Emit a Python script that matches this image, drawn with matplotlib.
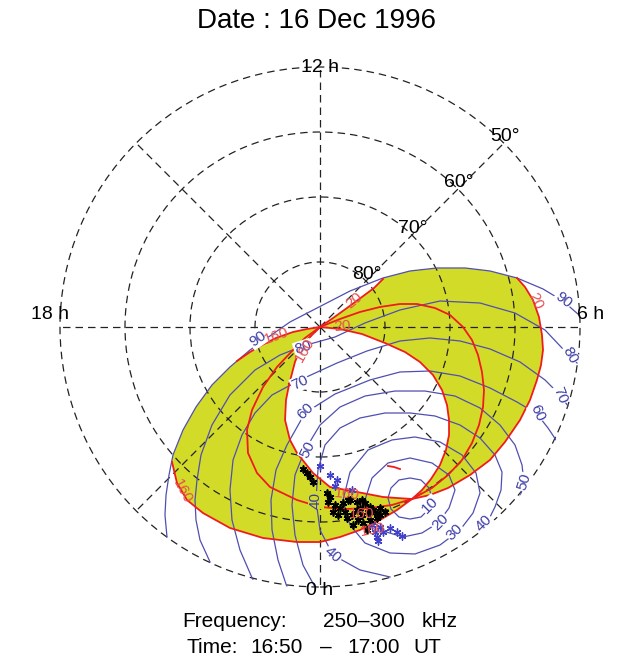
import numpy as np
import matplotlib
matplotlib.use("Agg")
from matplotlib import pyplot as plt
from matplotlib.path import Path
from matplotlib.patches import PathPatch

plt.rcParams['font.family'] = ['Liberation Sans', 'DejaVu Sans']

# All positions are magnetic colatitude (deg) measured from the pole,
# x toward 06 MLT, y toward 12 MLT.

# blue contours (10 .. 90)
blue_10 = [(17.23, -26.31), (16.77, -24.77), (15.54, -23.54), (13.85, -23.23),
           (12.15, -23.54), (10.92, -24.77), (10.46, -26.31), (10.92, -28.0),
           (12.15, -29.23), (13.85, -29.54), (15.54, -29.23), (16.77, -28.0),
           (17.23, -26.31)]
blue_20 = [(6.92, -26.62), (8.0, -23.23), (10.46, -20.92), (13.85, -20.15),
           (17.23, -20.92), (19.85, -22.77), (20.77, -25.08), (19.85, -27.85),
           (18.15, -30.15), (15.69, -31.69), (12.77, -32.31), (9.69, -31.38),
           (7.69, -29.38), (6.92, -26.62)]
blue_30 = [(3.54, -26.62), (4.62, -22.31), (7.38, -18.92), (11.08, -17.38),
           (14.62, -16.92), (18.46, -17.69), (21.85, -19.69), (24.0, -22.46),
           (24.62, -25.54), (23.54, -28.62), (21.54, -31.23), (18.46, -33.54),
           (14.62, -34.92), (10.77, -34.77), (6.92, -33.23), (4.62, -30.46),
           (3.54, -26.62)]
blue_40 = [(10.77, -38.46), (6.15, -37.38), (2.0, -35.08), (0.0, -31.23),
           (-0.62, -26.62), (-0.31, -22.0), (0.77, -18.15), (3.08, -15.54),
           (6.15, -14.0), (10.0, -13.23), (13.85, -13.23), (17.69, -13.69),
           (21.54, -15.08), (24.62, -17.08), (26.92, -19.69), (28.0, -22.31),
           (27.85, -25.08), (26.92, -27.69), (25.69, -30.15), (24.92, -31.69)]
blue_50 = [(-0.77, -40.0), (-2.62, -36.62), (-3.85, -32.0), (-4.31, -27.38),
           (-3.85, -22.77), (-2.31, -18.92), (0.0, -15.08), (3.08, -12.31),
           (6.92, -10.62), (11.54, -9.85), (16.15, -9.85), (20.77, -10.62),
           (24.62, -12.46), (27.69, -15.08), (30.0, -18.15), (31.08, -21.23),
           (31.38, -24.0), (30.77, -26.15)]
blue_60 = [(-5.08, -40.0), (-6.46, -35.85), (-7.38, -31.23), (-7.54, -26.62),
           (-6.77, -22.0), (-5.08, -18.15), (-2.31, -13.23), (2.31, -10.31),
           (7.69, -8.15), (12.31, -6.92), (16.92, -6.77), (21.54, -7.54),
           (26.15, -9.38), (30.31, -11.54), (33.38, -13.38), (35.08, -15.54),
           (36.31, -17.38)]
blue_70 = [(-10.31, -38.92), (-12.31, -34.31), (-13.54, -29.69), (-13.85, -25.08),
           (-13.38, -20.46), (-12.0, -16.62), (-10.0, -13.23), (-7.38, -10.46),
           (-3.08, -8.15), (2.62, -5.54), (7.23, -3.69), (12.31, -2.15),
           (16.92, -1.69), (21.54, -2.15), (26.15, -3.38), (30.77, -5.38),
           (34.62, -8.15), (36.92, -10.46), (38.15, -12.15)]
blue_80 = [(-16.92, -36.15), (-18.46, -32.77), (-19.08, -29.69), (-19.23, -26.62),
           (-18.92, -23.54), (-18.31, -19.69), (-16.62, -15.08), (-13.85, -10.46),
           (-10.0, -6.62), (-6.15, -4.31), (-2.62, -2.92), (2.31, -1.54),
           (6.92, 0.62), (12.31, 2.62), (18.46, 4.0), (24.62, 3.69),
           (30.0, 2.15), (34.62, -0.46), (37.23, -3.23), (39.54, -5.54)]
blue_90 = [(-23.54, -32.31), (-23.85, -28.92), (-23.69, -25.85), (-23.23, -22.77),
           (-22.62, -19.69), (-21.08, -15.85), (-19.08, -12.31), (-16.62, -8.92),
           (-13.85, -6.15), (-10.77, -3.54), (-7.69, -1.38), (-4.62, 0.77),
           (-0.46, 2.92), (4.62, 5.54), (9.69, 7.54), (13.85, 8.62),
           (18.0, 9.08), (22.31, 9.08), (26.15, 8.62), (30.31, 7.54),
           (34.31, 5.85), (37.38, 4.0), (39.85, 1.85)]

# red cone-angle curves (visible pieces of the outer one, two closed inner ones)
red_outer_a = [(0.0, 0.0), (2.0, 1.38), (4.15, 2.92), (6.46, 4.62), (8.31, 6.0),
               (9.69, 7.38)]
red_outer_b = [(30.31, 7.54), (31.54, 6.15), (32.77, 4.15), (33.69, 1.54),
               (34.15, -1.23), (34.31, -3.54), (34.0, -5.85), (33.38, -8.15),
               (32.31, -11.23), (30.77, -14.31), (28.46, -17.69), (26.15, -20.46),
               (23.08, -22.77), (19.69, -24.77), (16.92, -25.85), (14.15, -26.46),
               (11.85, -28.15), (9.23, -29.69), (6.15, -31.23), (3.08, -32.31),
               (0.0, -33.08), (-3.54, -33.08), (-8.77, -32.46), (-13.85, -30.92),
               (-18.0, -28.62), (-20.46, -26.62), (-22.0, -24.0), (-22.77, -20.77)]
red_outer_c = [(-12.77, -5.23), (-10.77, -3.85), (-8.92, -2.77), (-6.77, -1.69),
               (-4.15, -0.77), (-2.0, -0.31), (0.0, 0.0)]
red_mid = [(0.0, 0.0), (3.08, 1.23), (6.15, 2.31), (9.23, 3.08), (12.31, 3.54),
           (14.92, 3.54), (17.69, 2.92), (20.0, 1.85), (22.0, 0.0), (23.38, -2.0),
           (24.31, -4.31), (24.92, -6.92), (25.23, -9.69), (25.08, -12.31),
           (24.46, -15.08), (23.38, -17.85), (21.85, -20.46), (19.69, -22.77),
           (17.23, -24.77), (14.15, -26.46), (11.08, -27.38), (7.69, -27.85),
           (3.85, -28.0), (0.0, -27.69), (-3.54, -26.62), (-7.69, -24.62),
           (-9.69, -22.46), (-11.08, -19.38), (-11.23, -15.85), (-10.46, -12.77),
           (-8.77, -9.23), (-6.62, -6.15), (-4.15, -3.54), (-2.31, -1.69), (0.0, 0.0)]
red_inner = [(0.0, 0.0), (3.08, -0.31), (6.46, -1.08), (10.0, -2.46), (13.08, -3.85),
             (15.38, -5.38), (17.38, -7.38), (18.77, -9.69), (19.54, -12.0),
             (19.85, -14.31), (19.85, -16.62), (19.38, -18.92), (18.46, -21.23),
             (17.08, -23.38), (15.69, -25.08), (14.15, -26.46), (11.85, -26.31),
             (9.69, -26.15), (5.69, -25.38), (1.54, -24.62), (-1.08, -22.46),
             (-3.54, -19.38), (-4.62, -17.38), (-5.38, -14.31), (-5.23, -11.23),
             (-4.77, -8.92), (-3.85, -5.38), (-3.08, -3.54), (-2.0, -2.0), (0.0, 0.0)]
red_tick = [(10.46, -21.38), (11.38, -21.54), (12.31, -21.85)]

# observed source positions
black_x = [-2.62, -2.0, -1.54, -1.08, 1.08, 1.54, 1.23, 2.31, 3.08, 3.54, 2.77, 3.85,
           4.15, 4.92, 4.31, 5.69, 6.46, 6.92, 7.69, 7.38, 8.15, 8.77, 6.46, 5.85,
           5.08, 6.62, 7.69, 8.77, 9.23, 7.23, 2.0, 9.23, 10.0, 6.15, 4.62, 5.69]
black_y = [-21.85, -22.46, -23.08, -23.85, -25.54, -26.15, -26.92, -27.38, -27.85,
           -27.08, -28.92, -28.46, -29.38, -28.92, -26.62, -26.92, -26.62, -27.08,
           -27.69, -28.46, -28.15, -28.62, -28.92, -29.69, -30.46, -30.15, -29.69,
           -29.38, -28.92, -31.23, -28.46, -27.85, -28.46, -27.85, -26.62, -28.15]
blue_x = [0.0, 1.54, 2.62, 2.31, 4.92, 9.23, 8.46, 8.77, 8.92, 10.77, 11.85, 12.62,
          9.69, 8.0]
blue_y = [-21.38, -22.77, -23.54, -24.46, -25.08, -30.77, -31.54, -32.31, -32.92,
          -30.92, -31.54, -32.15, -31.54, -30.46]

# contour labels: (x, y, text, rotation, sits on yellow)
blue_labels = [(-9.54, -1.85, '90', 35, False), (-2.62, -3.23, '80', 18, False),
               (-3.08, -8.62, '70', 26, False), (-2.31, -12.92, '60', 45, False),
               (-1.85, -18.92, '50', 63, False), (-0.62, -26.62, '40', 90, True),
               (2.0, -35.08, '40', -42, False), (16.92, -27.38, '10', 45, False),
               (18.46, -30.0, '20', 45, False), (20.77, -31.54, '30', 45, False),
               (25.23, -30.15, '40', 45, False), (31.38, -23.85, '50', 72, False),
               (33.38, -13.23, '60', -65, False), (36.92, -10.46, '70', -68, False),
               (38.46, -4.31, '80', -60, False), (37.38, 4.15, '90', -38, False)]
red_labels = [(5.23, 4.15, '20', 40), (3.38, 0.15, '20', 5), (33.08, 4.0, '20', -65),
              (-6.62, -1.38, '160', 20), (-2.31, -3.54, '160', 60), (-21.23, -25.23, '160', -62),
              (4.15, -25.69, '160', -5), (6.46, -28.77, '160', 0), (8.15, -31.23, '160', 10)]

mlt_labels = ['0 h', '6 h', '12 h', '18 h']
lat_labels = ['80°', '70°', '60°', '50°']

BLUE = '#4f4fb2'
RED = '#f01c1c'
YELLOW = '#d3db29'
RMAX = 40.25   # a little past 40 so the 50 deg circle is not cut in half


def to_polar(pts):
    a = np.asarray(pts, dtype=float)
    return np.arctan2(a[:, 0], -a[:, 1]), np.hypot(a[:, 0], a[:, 1])


fig = plt.figure(figsize=(6.33, 6.62), dpi=100)
rad = 260 * RMAX / 40
ax = fig.add_axes([(320 - rad) / 633, (335 - rad) / 662, 2 * rad / 633, 2 * rad / 662],
                  projection='polar')
ax.set_theta_zero_location('S')
ax.set_theta_direction(1)

# yellow area: between the outer curve (cut by the 90 contour) and the inner one
outer = red_outer_a + blue_90[14:20] + red_outer_b + blue_90[4:9] + red_outer_c
inner = red_inner[::-1]
verts, codes = [], []
for loop in (outer, inner):
    th, r = to_polar(loop)
    verts += list(zip(th, r))
    codes += [Path.MOVETO] + [Path.LINETO] * (len(loop) - 1)
ax.add_patch(PathPatch(Path(verts, codes), facecolor=YELLOW, edgecolor='none', zorder=1))

for curve in (blue_10, blue_20, blue_30, blue_40, blue_50, blue_60, blue_70, blue_80, blue_90):
    th, r = to_polar(curve)
    ax.plot(th, r, color=BLUE, lw=0.9, zorder=2)

for curve in (red_outer_a, red_outer_b, red_outer_c, red_mid, red_inner, red_tick):
    th, r = to_polar(curve)
    ax.plot(th, r, color=RED, lw=1.3, zorder=2.2)

th, r = to_polar(list(zip(blue_x, blue_y)))
ax.plot(th, r, ls='none', marker=(6, 2, 0), ms=5.5, mew=1.0, color='#4040c8', zorder=3)
th, r = to_polar(list(zip(black_x, black_y)))
ax.plot(th, r, ls='none', marker=(6, 2, 0), ms=5.5, mew=1.2, color='black', zorder=3.2)

for x, y, s, rot, on_yellow in blue_labels:
    t, rr = to_polar([(x, y)])
    ax.text(t[0], rr[0], s, color='#3c3ca8', fontsize=11, rotation=rot,
            rotation_mode='anchor', ha='center', va='center', zorder=5,
            bbox=dict(boxstyle='square,pad=0.05', fc=YELLOW if on_yellow else 'white', ec='none'))
for x, y, s, rot in red_labels:
    t, rr = to_polar([(x, y)])
    ax.text(t[0], rr[0], s, color='#e65050', fontsize=11, rotation=rot,
            rotation_mode='anchor', ha='center', va='center', zorder=5)

# grid
ax.set_ylim(0, RMAX)
ax.set_rgrids([10, 20, 30, 40], labels=[])
ax.set_thetagrids(np.arange(0, 360, 45), labels=[])
ax.grid(True, color='#222222', lw=0.9, ls=(0, (6, 4)))
ax.tick_params(length=0)
ax.spines['polar'].set_visible(False)

# MLT labels
ax.text(0, 40.6, mlt_labels[0], fontsize=14, ha='center', va='center')
ax.text(np.arctan2(41.69, -1.85), np.hypot(41.69, 1.85), mlt_labels[1], fontsize=14, ha='center', va='center')
ax.text(np.pi, 40, mlt_labels[2], fontsize=14, ha='center', va='center')
ax.text(np.arctan2(-41.54, -1.85), np.hypot(41.54, 1.85), mlt_labels[3], fontsize=14, ha='center', va='center')

# latitude labels along the 09 MLT meridian
for k, s in enumerate(lat_labels):
    ax.annotate(s, xy=(np.radians(135), 10 * (k + 1)), xytext=(0.7, 4.7),
                textcoords='offset points', fontsize=14, ha='center', va='center')

fig.text(0.5, 0.9577, 'Date : 16 Dec 1996', fontsize=20, ha='center', va='baseline')
fig.text(0.2875, 0.0529, 'Frequency:', fontsize=15, ha='left', va='baseline')
fig.text(0.5103, 0.0529, '250–300', fontsize=15, ha='left', va='baseline')
fig.text(0.6667, 0.0529, 'kHz', fontsize=15, ha='left', va='baseline')
fig.text(0.2954, 0.0136, 'Time:', fontsize=15, ha='left', va='baseline')
fig.text(0.3949, 0.0136, '16:50', fontsize=15, ha='left', va='baseline')
fig.text(0.5055, 0.0136, '–', fontsize=15, ha='left', va='baseline')
fig.text(0.5482, 0.0136, '17:00', fontsize=15, ha='left', va='baseline')
fig.text(0.6524, 0.0136, 'UT', fontsize=15, ha='left', va='baseline')

fig.savefig('out.png', dpi=100, facecolor='white')
